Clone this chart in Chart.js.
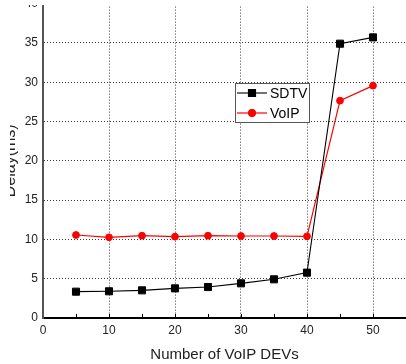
<!DOCTYPE html>
<html>
<head>
<meta charset="utf-8">
<script src="https://cdn.jsdelivr.net/npm/chart.js@4/dist/chart.umd.min.js"></script>
<style>
  html, body { margin: 0; padding: 0; background: #fff; width: 406px; height: 364px; overflow: hidden; }
  #clip { position: absolute; left: 10px; top: 5px; width: 396px; height: 359px; overflow: hidden; background: #fff; }
  #wrap { position: absolute; left: -10px; top: -15px; width: 412px; height: 374px; }
</style>
</head>
<body>
<div id="clip"><div id="wrap"><canvas id="c"></canvas></div></div>
<script>
const devCounts = [5, 10, 15, 20, 25, 30, 35, 40, 45, 50];
const sdtvDelay = [3.35, 3.4, 3.52, 3.77, 3.94, 4.41, 4.92, 5.77, 34.9, 35.7];
const voipDelay = [10.56, 10.27, 10.47, 10.35, 10.47, 10.43, 10.43, 10.39, 27.65, 29.56];
const xTickStep = 5;
const yTickStep = 5;
const seriesNames = ['SDTV', 'VoIP'];

const FONT = "'Liberation Sans', Arial, sans-serif";

const toPoints = (xs, ys) => xs.map((x, i) => ({ x: x, y: ys[i] }));

const boxLegend = {
  id: 'boxLegend',
  afterDatasetsDraw(chart, args, opts) {
    const ctx = chart.ctx;
    ctx.save();
    ctx.fillStyle = '#fff';
    ctx.fillRect(opts.x, opts.y, opts.w, opts.h);
    ctx.strokeStyle = '#555';
    ctx.lineWidth = 1;
    ctx.strokeRect(opts.x + 0.5, opts.y + 0.5, opts.w, opts.h);
    chart.data.datasets.forEach((ds, i) => {
      const cy = opts.y + opts.rowStart + i * opts.rowGap;
      const x0 = opts.x + 2, x1 = x0 + 30, cx = (x0 + x1) / 2;
      ctx.strokeStyle = ds.borderColor;
      ctx.lineWidth = ds.borderWidth;
      ctx.beginPath();
      ctx.moveTo(x0, cy);
      ctx.lineTo(x1, cy);
      ctx.stroke();
      Chart.helpers.drawPoint(ctx, {
        pointStyle: ds.pointStyle, radius: ds.pointRadius, rotation: 0, borderWidth: 1
      }, cx, cy);
      ctx.fillStyle = ds.pointBackgroundColor;
      ctx.strokeStyle = ds.borderColor;
      ctx.beginPath();
      ctx.lineWidth = 1;
      if (ds.pointStyle === 'rect') {
        const s = Math.SQRT1_2 * ds.pointRadius;
        ctx.rect(cx - s, cy - s, 2 * s, 2 * s);
      } else {
        ctx.arc(cx, cy, ds.pointRadius, 0, Math.PI * 2);
      }
      ctx.fill();
      ctx.fillStyle = '#000';
      ctx.font = "14px " + FONT;
      ctx.textAlign = 'left';
      ctx.textBaseline = 'middle';
      ctx.fillText(ds.label, x1 + 3, cy + 1);
    });
    ctx.restore();
  }
};

const innerTicks = {
  id: 'innerTicks',
  afterDraw(chart) {
    const ctx = chart.ctx;
    const xs = chart.scales.x;
    const bottom = chart.chartArea.bottom;
    ctx.save();
    ctx.strokeStyle = '#000';
    ctx.lineWidth = 1;
    xs.ticks.forEach(t => {
      if (t.value <= 0) return;
      const px = Math.round(xs.getPixelForValue(t.value)) + 0.5;
      ctx.beginPath();
      ctx.moveTo(px, bottom);
      ctx.lineTo(px, bottom - 4);
      ctx.stroke();
    });
    ctx.restore();
  }
};

new Chart(document.getElementById('c'), {
  type: 'line',
  data: {
    datasets: [
      {
        label: seriesNames[0],
        data: toPoints(devCounts, sdtvDelay),
        borderColor: '#000',
        backgroundColor: '#000',
        pointBackgroundColor: '#000',
        pointBorderColor: '#000',
        pointStyle: 'rect',
        pointRadius: 5,
        pointBorderWidth: 1,
        borderWidth: 1.1,
        tension: 0
      },
      {
        label: seriesNames[1],
        data: toPoints(devCounts, voipDelay),
        borderColor: '#ff0000',
        backgroundColor: '#ff0000',
        pointBackgroundColor: '#ff0000',
        pointBorderColor: '#ff0000',
        pointStyle: 'circle',
        pointRadius: 3.4,
        pointBorderWidth: 1,
        borderWidth: 1.2,
        tension: 0
      }
    ]
  },
  options: {
    responsive: true,
    maintainAspectRatio: false,
    animation: false,
    layout: { padding: { left: 0, top: 13.6, right: 3.8, bottom: 0 } },
    plugins: {
      legend: { display: false },
      tooltip: { enabled: false },
      boxLegend: { x: 235, y: 93, w: 74, h: 39, rowStart: 10, rowGap: 20 }
    },
    scales: {
      x: {
        type: 'linear',
        min: 0,
        max: 55,
        afterFit: s => { s.height = 46; },
        ticks: {
          stepSize: xTickStep,
          autoSkip: false,
          maxRotation: 0,
          padding: 5,
          color: '#222',
          font: { family: FONT, size: 12 },
          callback: v => (v % 10 === 0 ? String(v) : '')
        },
        grid: {
          drawTicks: false,
          lineWidth: 1,
          color: c => (c.tick && c.tick.value % 10 === 0 && c.tick.value > 0) ? '#3a3a3a' : 'rgba(0,0,0,0)'
        },
        border: { display: true, color: '#000', width: 2, dash: [1, 2] },
        title: {
          display: true,
          text: 'Number of VoIP DEVs',
          color: '#222',
          font: { family: FONT, size: 15 },
          padding: { top: 0, bottom: 0 }
        }
      },
      y: {
        min: 0,
        max: 40,
        afterFit: s => { s.width = 43; },
        ticks: {
          stepSize: yTickStep,
          padding: 5,
          color: '#222',
          font: { family: FONT, size: 12 }
        },
        grid: {
          drawTicks: false,
          lineWidth: 1,
          color: c => (c.tick && c.tick.value > 0) ? '#3a3a3a' : 'rgba(0,0,0,0)'
        },
        border: { display: true, color: '#555', width: 2, dash: [1, 2] },
        title: {
          display: true,
          text: 'Delay(ms)',
          color: '#222',
          font: { family: FONT, size: 16 },
          padding: { top: 1, bottom: 0 }
        }
      }
    }
  },
  plugins: [boxLegend, innerTicks]
});
</script>
</body>
</html>
